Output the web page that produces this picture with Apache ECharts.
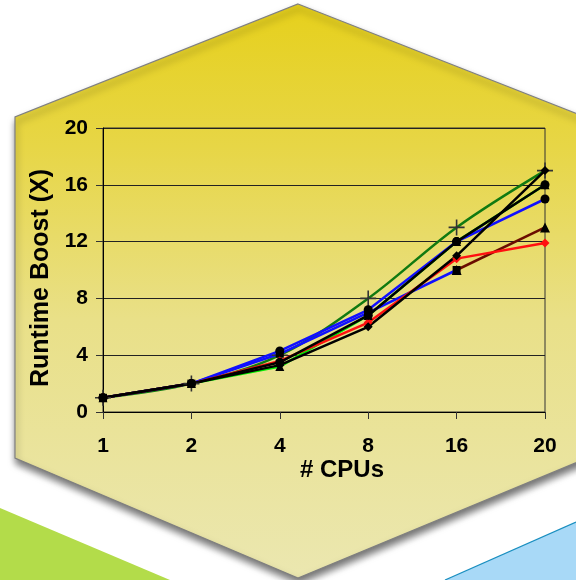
<!DOCTYPE html>
<html>
<head>
<meta charset="utf-8">
<script src="https://cdn.jsdelivr.net/npm/echarts@6/dist/echarts.min.js"></script>
<style>html,body{margin:0;padding:0;background:#fff;}#c{width:576px;height:580px;}</style>
</head>
<body>
<div id="c"></div>
<script>
const categories = ['1', '2', '4', '8', '16', '20'];
const yTicks = [0, 4, 8, 12, 16, 20];
const lightGreen = [1, 2, 3.2, 6.8, 12, 16];
const darkGreen = [1, 2, 4.0, 8, 13, 17];
const blueA = [1, 2, 4.3, 7.2, 12, 15];
const blueB = [1, 2, 4.1, 7.0, 10, null];
const brown = [null, null, null, null, 10, 13];
const red = [1, 2, 3.6, 6.3, 10.8, 11.9];
const blackA = [1, 2, 3.3, 6.0, 11, 17];
const blackB = [1, 2, 3.5, 6.8, 12, 16];

const chart = echarts.init(document.getElementById('c'), null, {renderer: 'canvas'});
const font = '"Liberation Sans", Arial, sans-serif';
const plus = 'path://M4.5,0 L5.5,0 L5.5,4.5 L10,4.5 L10,5.5 L5.5,5.5 L5.5,10 L4.5,10 L4.5,5.5 L0,5.5 L0,4.5 L4.5,4.5 Z';

function line(name, data, color, symbol, symColor, size, extra) {
  return Object.assign({
    name, type: 'line', data,
    symbol, symbolSize: size,
    showAllSymbol: true,
    connectNulls: false,
    lineStyle: {color, width: 2.5},
    itemStyle: {color: symColor, borderWidth: 0},
    emphasis: {disabled: true},
    animation: false
  }, extra || {});
}

chart.setOption({
  animation: false,
  graphic: [
    {type: 'polygon', z: -10, shape: {points: [[0, 508], [170, 580], [0, 580]]},
      style: {fill: '#b3dc4a'}},
    {type: 'polygon', z: -10, shape: {points: [[576, 522], [576, 580], [445, 580]]},
      style: {fill: '#a8d9f7'}},
    {type: 'polyline', z: -9, shape: {points: [[576, 522], [445, 580]]},
      style: {stroke: '#1a8fc0', lineWidth: 1.2}},
    {type: 'polygon', z: -8,
      shape: {points: [[298, 4], [585, 117], [585, 459], [298, 578], [15, 458], [15, 117]]},
      style: {
        fill: new echarts.graphic.LinearGradient(0, 0, 0, 1, [
          {offset: 0, color: '#e6d01c'},
          {offset: 0.25, color: '#e7d646'},
          {offset: 0.55, color: '#e9e088'},
          {offset: 1, color: '#ebe7b0'}
        ]),
        stroke: '#808080', lineWidth: 1.2,
        shadowBlur: 7, shadowOffsetY: 5, shadowOffsetX: 1, shadowColor: 'rgba(0,0,0,0.55)'
      }}
  ],
  grid: {left: 103, right: 31, top: 128, bottom: 168, show: true, borderColor: '#333', borderWidth: 1, backgroundColor: 'transparent'},
  xAxis: {
    type: 'category', data: categories, boundaryGap: false,
    name: '# CPUs', nameLocation: 'middle', nameGap: 43,
    nameTextStyle: {fontFamily: font, fontWeight: 'bold', fontSize: 24, color: '#000', padding: [0, 0, 0, 36]},
    axisLine: {lineStyle: {color: '#000', width: 1}},
    axisTick: {show: true, length: 7, lineStyle: {color: '#333'}},
    axisLabel: {fontFamily: font, fontWeight: 'bold', fontSize: 21, color: '#000', margin: 24},
    splitLine: {show: false}
  },
  yAxis: {
    type: 'value', min: 0, max: 20, interval: 4,
    name: 'Runtime Boost (X)', nameLocation: 'middle', nameGap: 44,
    nameTextStyle: {fontFamily: font, fontWeight: 'bold', fontSize: 25, color: '#000', padding: [0, 16, 0, 0]},
    axisLine: {show: true, lineStyle: {color: '#000', width: 1}},
    axisTick: {show: true, length: 7, lineStyle: {color: '#333'}},
    axisLabel: {fontFamily: font, fontWeight: 'bold', fontSize: 21, color: '#000', margin: 15,
      formatter: v => yTicks.includes(v) ? String(v) : ''},
    splitLine: {show: true, lineStyle: {color: '#222', width: 1}}
  },
  series: [
    line('lightGreen', lightGreen, '#00ee00', 'triangle', '#000', 9),
    line('darkGreen', darkGreen, '#117a11', plus, '#333', 16, {smooth: 0.35}),
    line('blueA', blueA, '#1010ff', 'circle', '#000', 9),
    line('blueB', blueB, '#1010ff', 'rect', '#000', 8),
    line('brown', brown, '#6a0c00', 'triangle', '#000', 10),
    line('red', red, '#ff1010', 'diamond', '#ff1010', 9),
    line('blackA', blackA, '#000', 'diamond', '#000', 9),
    line('blackB', blackB, '#000', 'circle', '#000', 9)
  ]
});
</script>
</body>
</html>
